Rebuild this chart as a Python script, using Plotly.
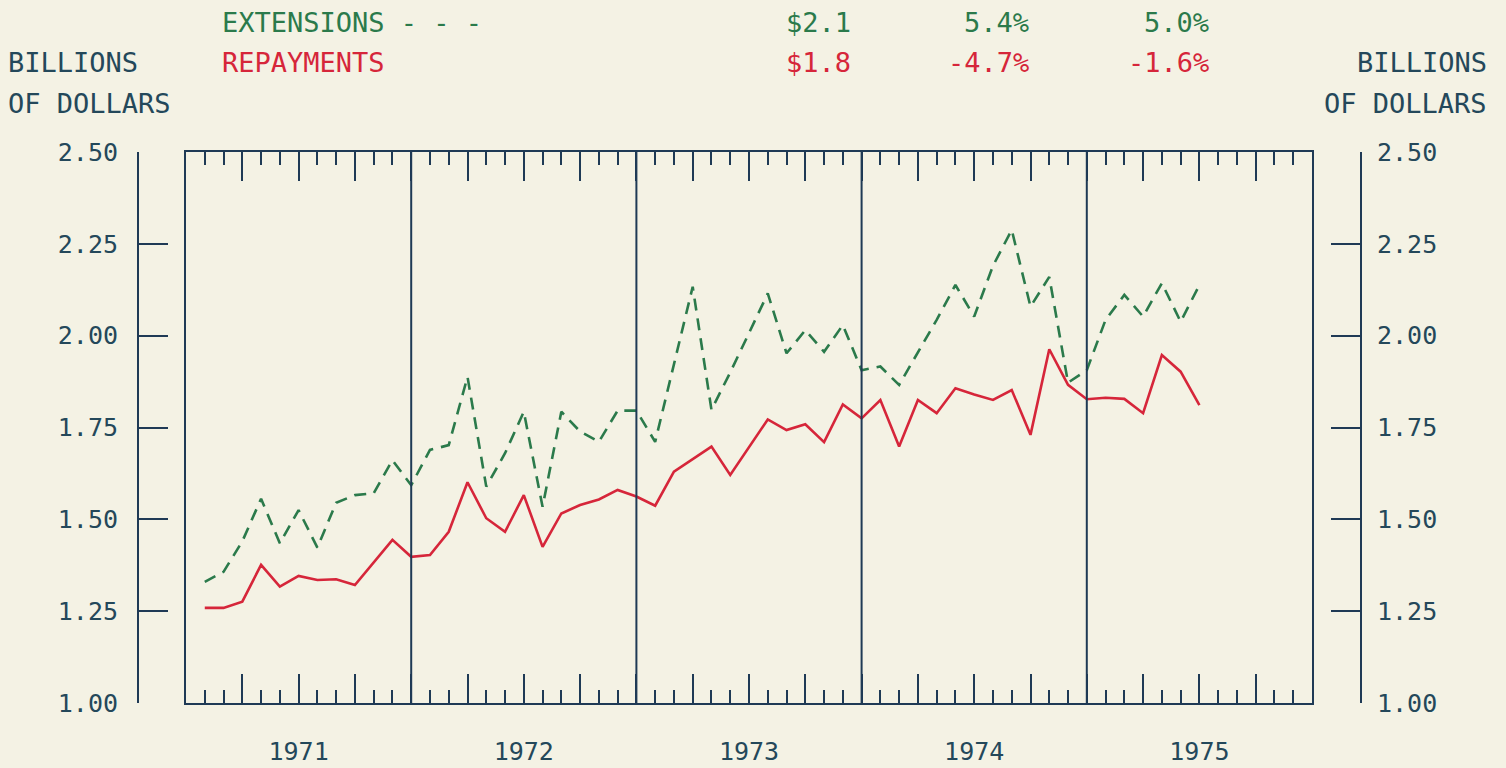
import plotly.graph_objects as go

# ---------------- data ----------------
years = ["1971", "1972", "1973", "1974", "1975"]
months = list(range(1, 55))  # month index, Jan 1971 = 1 ... Jun 1975 = 54

extensions = [1.330, 1.357, 1.440, 1.556, 1.435, 1.525, 1.423, 1.545, 1.566, 1.571, 1.661, 1.593,
              1.689, 1.702, 1.888, 1.589, 1.680, 1.793, 1.534, 1.793, 1.739, 1.711, 1.796, 1.796,
              1.711, 1.926, 2.133, 1.798, 1.900, 2.007, 2.115, 1.952, 2.015, 1.956, 2.029, 1.906,
              1.916, 1.866, 1.955, 2.043, 2.138, 2.052, 2.190, 2.288, 2.079, 2.160, 1.872, 1.906,
              2.043, 2.111, 2.052, 2.143, 2.038, 2.138]

repayments = [1.259, 1.259, 1.276, 1.376, 1.317, 1.346, 1.335, 1.337, 1.321, 1.383, 1.444, 1.398,
              1.403, 1.466, 1.601, 1.503, 1.466, 1.566, 1.425, 1.516, 1.539, 1.554, 1.580, 1.562,
              1.537, 1.630, 1.663, 1.698, 1.621, 1.698, 1.772, 1.743, 1.759, 1.710, 1.813, 1.775,
              1.825, 1.698, 1.825, 1.789, 1.857, 1.840, 1.825, 1.852, 1.730, 1.963, 1.866, 1.827,
              1.831, 1.828, 1.789, 1.947, 1.902, 1.811]

ext_stats = ["$2.1", "5.4%", "5.0%"]
rep_stats = ["$1.8", "-4.7%", "-1.6%"]

y_ticks = [1.00, 1.25, 1.50, 1.75, 2.00, 2.25, 2.50]

# ---------------- style ----------------
BG = "#f4f2e4"
NAVY = "#1f3a55"
TXT = "#24485a"
GREEN = "#2b7a4b"
RED = "#d6263a"
FONT = "DejaVu Sans Mono"

W, H = 1506, 768
L, R, T, B = 138, 145, 152, 65
PW, PH = W - L - R, H - T - B


def px(x):
    return (x - L) / PW


def py(y):
    return (H - B - y) / PH


fig = go.Figure()
fig.add_trace(go.Scatter(x=months, y=repayments, mode="lines", name="REPAYMENTS",
                         line=dict(color=RED, width=2.6), xaxis="x", yaxis="y3"))
fig.add_trace(go.Scatter(x=months, y=extensions, mode="lines", name="EXTENSIONS",
                         line=dict(color=GREEN, width=2.6, dash="12px,8px"), xaxis="x", yaxis="y3"))

# year tick labels placed at mid-year (quarter tick positions)
tickvals = list(range(3, 60, 3))
ticktext = []
for v in tickvals:
    if v % 12 == 6:
        ticktext.append(years[(v - 6) // 12])
    else:
        ticktext.append("")

x0 = px(186)
x1 = px(1312)

fig.update_layout(
    width=W, height=H,
    margin=dict(l=L, r=R, t=T, b=B, autoexpand=False),
    paper_bgcolor=BG, plot_bgcolor=BG,
    showlegend=False,
    xaxis=dict(range=[0, 60], domain=[x0, x1], showgrid=False, zeroline=False,
               showline=True, linecolor=NAVY, linewidth=2, mirror="ticks", automargin=False,
               ticks="inside", ticklen=29, tickwidth=2, tickcolor=NAVY,
               tickmode="array", tickvals=tickvals, ticktext=ticktext, anchor="y3",
               minor=dict(ticks="inside", dtick=1, tick0=0, ticklen=13, tickwidth=2,
                          tickcolor=NAVY, showgrid=False),
               tickfont=dict(family=FONT, size=25, color=TXT), ticklabelstandoff=25),
    # left axis with tick labels
    yaxis=dict(range=[1.0, 2.5], anchor="free", position=0, side="left", automargin=False,
               showgrid=False, zeroline=False, showline=True, linecolor=NAVY, linewidth=2,
               ticks="inside", ticklen=29, tickwidth=2, tickcolor=NAVY,
               tickmode="array", tickvals=y_ticks, tickformat=".2f",
               tickfont=dict(family=FONT, size=25, color=TXT), ticklabelstandoff=14),
    # right axis with tick labels
    yaxis2=dict(range=[1.0, 2.5], anchor="free", position=1, side="right", overlaying="y",
                automargin=False,
                showgrid=False, zeroline=False, showline=True, linecolor=NAVY, linewidth=2,
                ticks="inside", ticklen=29, tickwidth=2, tickcolor=NAVY,
                tickmode="array", tickvals=y_ticks, tickformat=".2f",
                tickfont=dict(family=FONT, size=25, color=TXT), ticklabelstandoff=10),
    # plot box sides
    yaxis3=dict(range=[1.0, 2.5], anchor="x", overlaying="y", side="left", automargin=False,
                showgrid=False, zeroline=False, showline=True, mirror=True,
                linecolor=NAVY, linewidth=2, ticks="", showticklabels=False),
)

# dummy traces for y and y2 axes
fig.add_trace(go.Scatter(x=[None], y=[None], xaxis="x", yaxis="y", showlegend=False,
                         hoverinfo="skip"))
fig.add_trace(go.Scatter(x=[None], y=[None], xaxis="x", yaxis="y2", showlegend=False,
                         hoverinfo="skip"))

# year dividers
for k in range(1, len(years)):
    fig.add_shape(type="line", xref="x", yref="y3", x0=12 * k, x1=12 * k, y0=1.0, y1=2.5,
                  line=dict(color=NAVY, width=2))


def ann(text, x, y, color, anchor="left", size=27):
    fig.add_annotation(text=text, xref="paper", yref="paper", x=px(x), y=py(y),
                       xanchor=anchor, yanchor="middle", showarrow=False,
                       font=dict(family=FONT, size=size, color=color))


ann("EXTENSIONS - - -", 220, 22, GREEN)
ann("REPAYMENTS", 220, 63, RED)
ann("BILLIONS", 6, 63, TXT)
ann("OF DOLLARS", 6, 103, TXT)
ann("BILLIONS", 1489, 63, TXT, anchor="right")
ann("OF DOLLARS", 1489, 103, TXT, anchor="right")

stat_right = [853, 1031, 1211]
for s, xr in zip(ext_stats, stat_right):
    ann(s, xr, 22, GREEN, anchor="right")
for s, xr in zip(rep_stats, stat_right):
    ann(s, xr, 63, RED, anchor="right")

fig.write_html("out.html", post_script="document.body.style.margin='0';",
               config={"displayModeBar": False})
